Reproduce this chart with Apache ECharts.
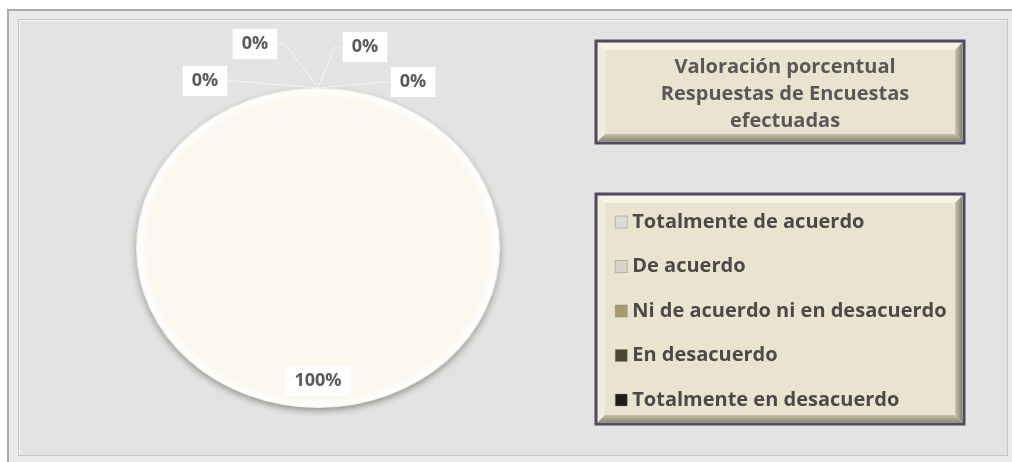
<!DOCTYPE html>
<html>
<head>
<meta charset="utf-8">
<script src="https://cdn.jsdelivr.net/npm/echarts@6/dist/echarts.min.js"></script>
<style>
  html, body { margin: 0; padding: 0; background: #ffffff; width: 1012px; height: 462px; overflow: hidden; }
  #outer { position: absolute; left: 7px; top: 9px; width: 1005px; height: 453px; background: #EAEAEA;
           border-left: 2px solid #ababab; border-top: 2px solid #ababab; box-sizing: border-box; }
  #inner { position: absolute; left: 18px; top: 19px; width: 990px; height: 437px; background: #E3E3E3;
           border: 1px solid #c6c6c6; box-shadow: inset 1px 1px 0 #f4f4f4; box-sizing: border-box; }
  #pie { position: absolute; left: 0; top: 0; width: 1012px; height: 462px;
         transform: scaleX(1.1375); transform-origin: 318px 248px; }
  #main { position: absolute; left: 0; top: 0; width: 1012px; height: 462px; }
</style>
</head>
<body>
<div id="outer"></div>
<div id="inner"></div>
<div id="pie"></div>
<div id="main"></div>
<script>
// ---- data ----
var categories = ['Totalmente de acuerdo', 'De acuerdo', 'Ni de acuerdo ni en desacuerdo', 'En desacuerdo', 'Totalmente en desacuerdo'];
var values = [100, 0, 0, 0, 0];
var sliceColors = ['#FBF9EE', '#E2E0D8', '#A89C68', '#4A4532', '#1E1D17'];
var legendColors = ['#DEDCD6', '#D6D3C8', '#A89C68', '#4A4532', '#1E1D17'];
var titleText = 'Valoración porcentual\nRespuestas de Encuestas\nefectuadas';

var FONT = '"Open Sans", Lato, sans-serif';

var pieData = categories.map(function (c, i) {
  var style = { color: sliceColors[i] };
  if (values[i] > 0) {
    style.color = new echarts.graphic.RadialGradient(0.5, 0.5, 0.5, [
      { offset: 0, color: sliceColors[i] },
      { offset: 0.94, color: sliceColors[i] },
      { offset: 0.985, color: '#FFFFFF' },
      { offset: 1, color: '#F4F2E6' }
    ]);
    style.shadowBlur = 6;
    style.shadowColor = 'rgba(60,55,40,0.45)';
    style.shadowOffsetY = 3;
  }
  return { name: c, value: values[i], itemStyle: style };
});

// ---- pie body (stretched horizontally for the oval look) ----
var pieChart = echarts.init(document.getElementById('pie'), null, { renderer: 'canvas' });
pieChart.setOption({
  animation: false,
  series: [{
    type: 'pie',
    silent: true,
    center: [318, 248],
    radius: [0, 160],
    startAngle: 90,
    label: { show: false },
    labelLine: { show: false },
    itemStyle: { borderWidth: 0 },
    data: pieData
  }]
});

// ---- overlay: labels, title box, legend box ----
function bevelBox(x, y, w, h) {
  var b = 7;
  return [
    { type: 'rect', z: 1, shape: { x: x, y: y, width: w, height: h },
      style: { fill: '#E9E4D0', stroke: '#514963', lineWidth: 3 } },
    { type: 'polygon', z: 2, shape: { points: [[x + 2, y + 2], [x + w - 2, y + 2], [x + w - 2 - b, y + 2 + b], [x + 2 + b, y + 2 + b]] },
      style: { fill: '#F7F4E5' } },
    { type: 'polygon', z: 2, shape: { points: [[x + 2, y + 2], [x + 2 + b, y + 2 + b], [x + 2 + b, y + h - 2 - b], [x + 2, y + h - 2]] },
      style: { fill: '#F1EDDB' } },
    { type: 'polygon', z: 2, shape: { points: [[x + w - 2, y + 2], [x + w - 2, y + h - 2], [x + w - 2 - b, y + h - 2 - b], [x + w - 2 - b, y + 2 + b]] },
      style: { fill: new echarts.graphic.LinearGradient(0, 0, 1, 0, [{ offset: 0, color: '#C9C5B0' }, { offset: 1, color: '#86826F' }]) } },
    { type: 'polygon', z: 2, shape: { points: [[x + 2, y + h - 2], [x + 2 + b, y + h - 2 - b], [x + w - 2 - b, y + h - 2 - b], [x + w - 2, y + h - 2]] },
      style: { fill: new echarts.graphic.LinearGradient(0, 0, 0, 1, [{ offset: 0, color: '#C4C0AA' }, { offset: 1, color: '#8E8A76' }]) } }
  ];
}

var labelSpots = { 1: [205, 81], 2: [255, 44], 3: [365, 47], 4: [413, 82] };

var chart = echarts.init(document.getElementById('main'), null, { renderer: 'canvas' });
chart.setOption({
  animation: false,
  backgroundColor: 'transparent',
  graphic: bevelBox(596, 41, 368, 102).concat(bevelBox(596, 194, 368, 230)),
  title: {
    text: titleText,
    left: 780, top: 49,
    textAlign: 'center',
    z: 10,
    textStyle: { fontFamily: FONT, fontSize: 20, fontWeight: 'bold', color: '#585858', lineHeight: 27 }
  },
  legend: {
    orient: 'vertical',
    left: 610, top: 206,
    itemWidth: 12, itemHeight: 12,
    itemGap: 22.5,
    icon: 'rect',
    selectedMode: false,
    z: 10,
    textStyle: { fontFamily: FONT, fontSize: 20, fontWeight: 'bold', color: '#4E4848', lineHeight: 22 },
    data: categories.map(function (c, i) {
      return { name: c, itemStyle: { color: legendColors[i], opacity: 1, borderColor: '#8a8a80', borderWidth: 0.5 } };
    })
  },
  series: [{
    type: 'pie',
    silent: true,
    center: [318, 248],
    radius: [0, 160],
    startAngle: 90,
    percentPrecision: 0,
    itemStyle: { color: 'rgba(0,0,0,0)', borderWidth: 0 },
    emphasis: { disabled: true },
    label: {
      show: true,
      formatter: '{d}%',
      fontFamily: FONT, fontSize: 18, fontWeight: 'bold', color: '#595959',
      backgroundColor: '#ffffff', padding: [7, 9, 5, 9]
    },
    labelLine: { show: true, length: 8, length2: 8, smooth: false, lineStyle: { color: '#F4F4F4', width: 1 } },
    labelLayout: function (p) {
      if (p.dataIndex === 0) { return { dy: 50 }; }
      var s = labelSpots[p.dataIndex];
      return { x: s[0], y: s[1], align: 'center', verticalAlign: 'middle' };
    },
    data: categories.map(function (c, i) {
      var d = { name: c, value: values[i] };
      if (i === 0) {
        d.label = { position: 'inside', fontSize: 18, padding: [7, 9, 5, 9] };
        d.labelLine = { show: false };
      }
      return d;
    })
  }]
});
</script>
</body>
</html>
